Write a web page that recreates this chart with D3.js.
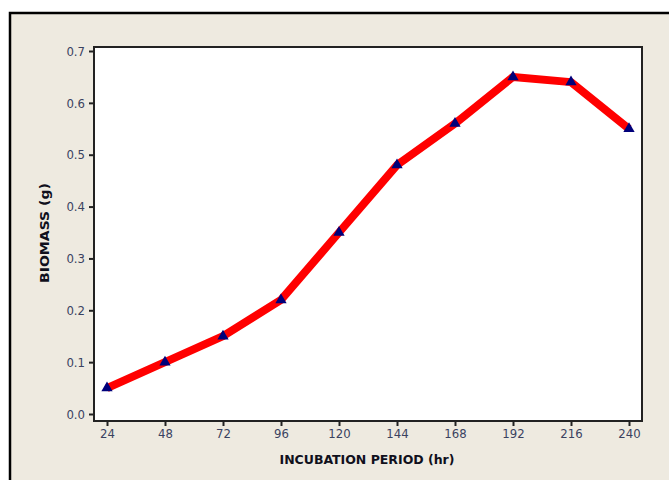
<meta charset="utf-8">
<html>
<head>
<style>
  body { margin: 0; background: #ffffff; }
  .tick text { font-family: "DejaVu Sans Condensed", "DejaVu Sans", sans-serif; font-size: 13px; fill: #3a4260; }
</style>
<script src="https://d3js.org/d3.v7.min.js"></script>
</head>
<body>
<div id="chart"></div>
<script>
// data
var hours = [24, 48, 72, 96, 120, 144, 168, 192, 216, 240];
var biomass = [0.05, 0.10, 0.15, 0.22, 0.35, 0.48, 0.56, 0.65, 0.64, 0.55];
var yTicks = [0.0, 0.1, 0.2, 0.3, 0.4, 0.5, 0.6, 0.7];

var W = 669, H = 480;
var svg = d3.select("#chart").append("svg")
  .attr("width", W).attr("height", H);

// beige panel with black frame (runs past right/bottom edge)
svg.append("rect")
  .attr("x", 10).attr("y", 13)
  .attr("width", W + 20).attr("height", H + 20)
  .attr("fill", "#eeeae0")
  .attr("stroke", "#000").attr("stroke-width", 2.5);

var plot = {left: 94, top: 47, right: 642, bottom: 421};

svg.append("rect")
  .attr("x", plot.left).attr("y", plot.top)
  .attr("width", plot.right - plot.left).attr("height", plot.bottom - plot.top)
  .attr("fill", "#fff")
  .attr("stroke", "#222").attr("stroke-width", 2);

var x = d3.scaleLinear().domain([24, 240]).range([107, 629]);
var y = d3.scaleLinear().domain([0, 0.7]).range([414, 51]);

var xAxis = svg.append("g")
  .attr("transform", "translate(0," + plot.bottom + ")")
  .call(d3.axisBottom(x).tickValues(hours).tickSize(5).tickPadding(3));
xAxis.select(".domain").remove();
xAxis.selectAll(".tick line").attr("stroke", "#222").attr("stroke-width", 2);

var yAxis = svg.append("g")
  .attr("transform", "translate(" + plot.left + ",0)")
  .call(d3.axisLeft(y).tickValues(yTicks).tickFormat(d3.format(".1f")).tickSize(5).tickPadding(4));
yAxis.select(".domain").remove();
yAxis.selectAll(".tick line").attr("stroke", "#222").attr("stroke-width", 2);

// axis titles
svg.append("text")
  .attr("x", 367).attr("y", 464)
  .attr("text-anchor", "middle")
  .attr("font-family", "'DejaVu Sans Condensed', sans-serif")
  .attr("font-weight", "bold").attr("font-size", 13)
  .attr("fill", "#10101c")
  .attr("textLength", 175).attr("lengthAdjust", "spacingAndGlyphs")
  .text("INCUBATION PERIOD (hr)");

svg.append("text")
  .attr("transform", "translate(49,233) rotate(-90)")
  .attr("text-anchor", "middle")
  .attr("font-family", "'DejaVu Sans Condensed', sans-serif")
  .attr("font-weight", "bold").attr("font-size", 13)
  .attr("fill", "#10101c")
  .attr("textLength", 100).attr("lengthAdjust", "spacingAndGlyphs")
  .text("BIOMASS (g)");

var pts = hours.map(function(h, i) { return [h, biomass[i]]; });

var line = d3.line()
  .x(function(d) { return x(d[0]); })
  .y(function(d) { return y(d[1]); });

svg.append("path")
  .datum(pts)
  .attr("d", line)
  .attr("fill", "none")
  .attr("stroke", "#ff0000")
  .attr("stroke-width", 8)
  .attr("stroke-linejoin", "round");

svg.selectAll(".mark")
  .data(pts)
  .enter().append("path")
  .attr("class", "mark")
  .attr("transform", function(d) { return "translate(" + x(d[0]) + "," + y(d[1]) + ")"; })
  .attr("d", d3.symbol().type(d3.symbolTriangle).size(55))
  .attr("fill", "#00007a");
</script>
</body>
</html>
